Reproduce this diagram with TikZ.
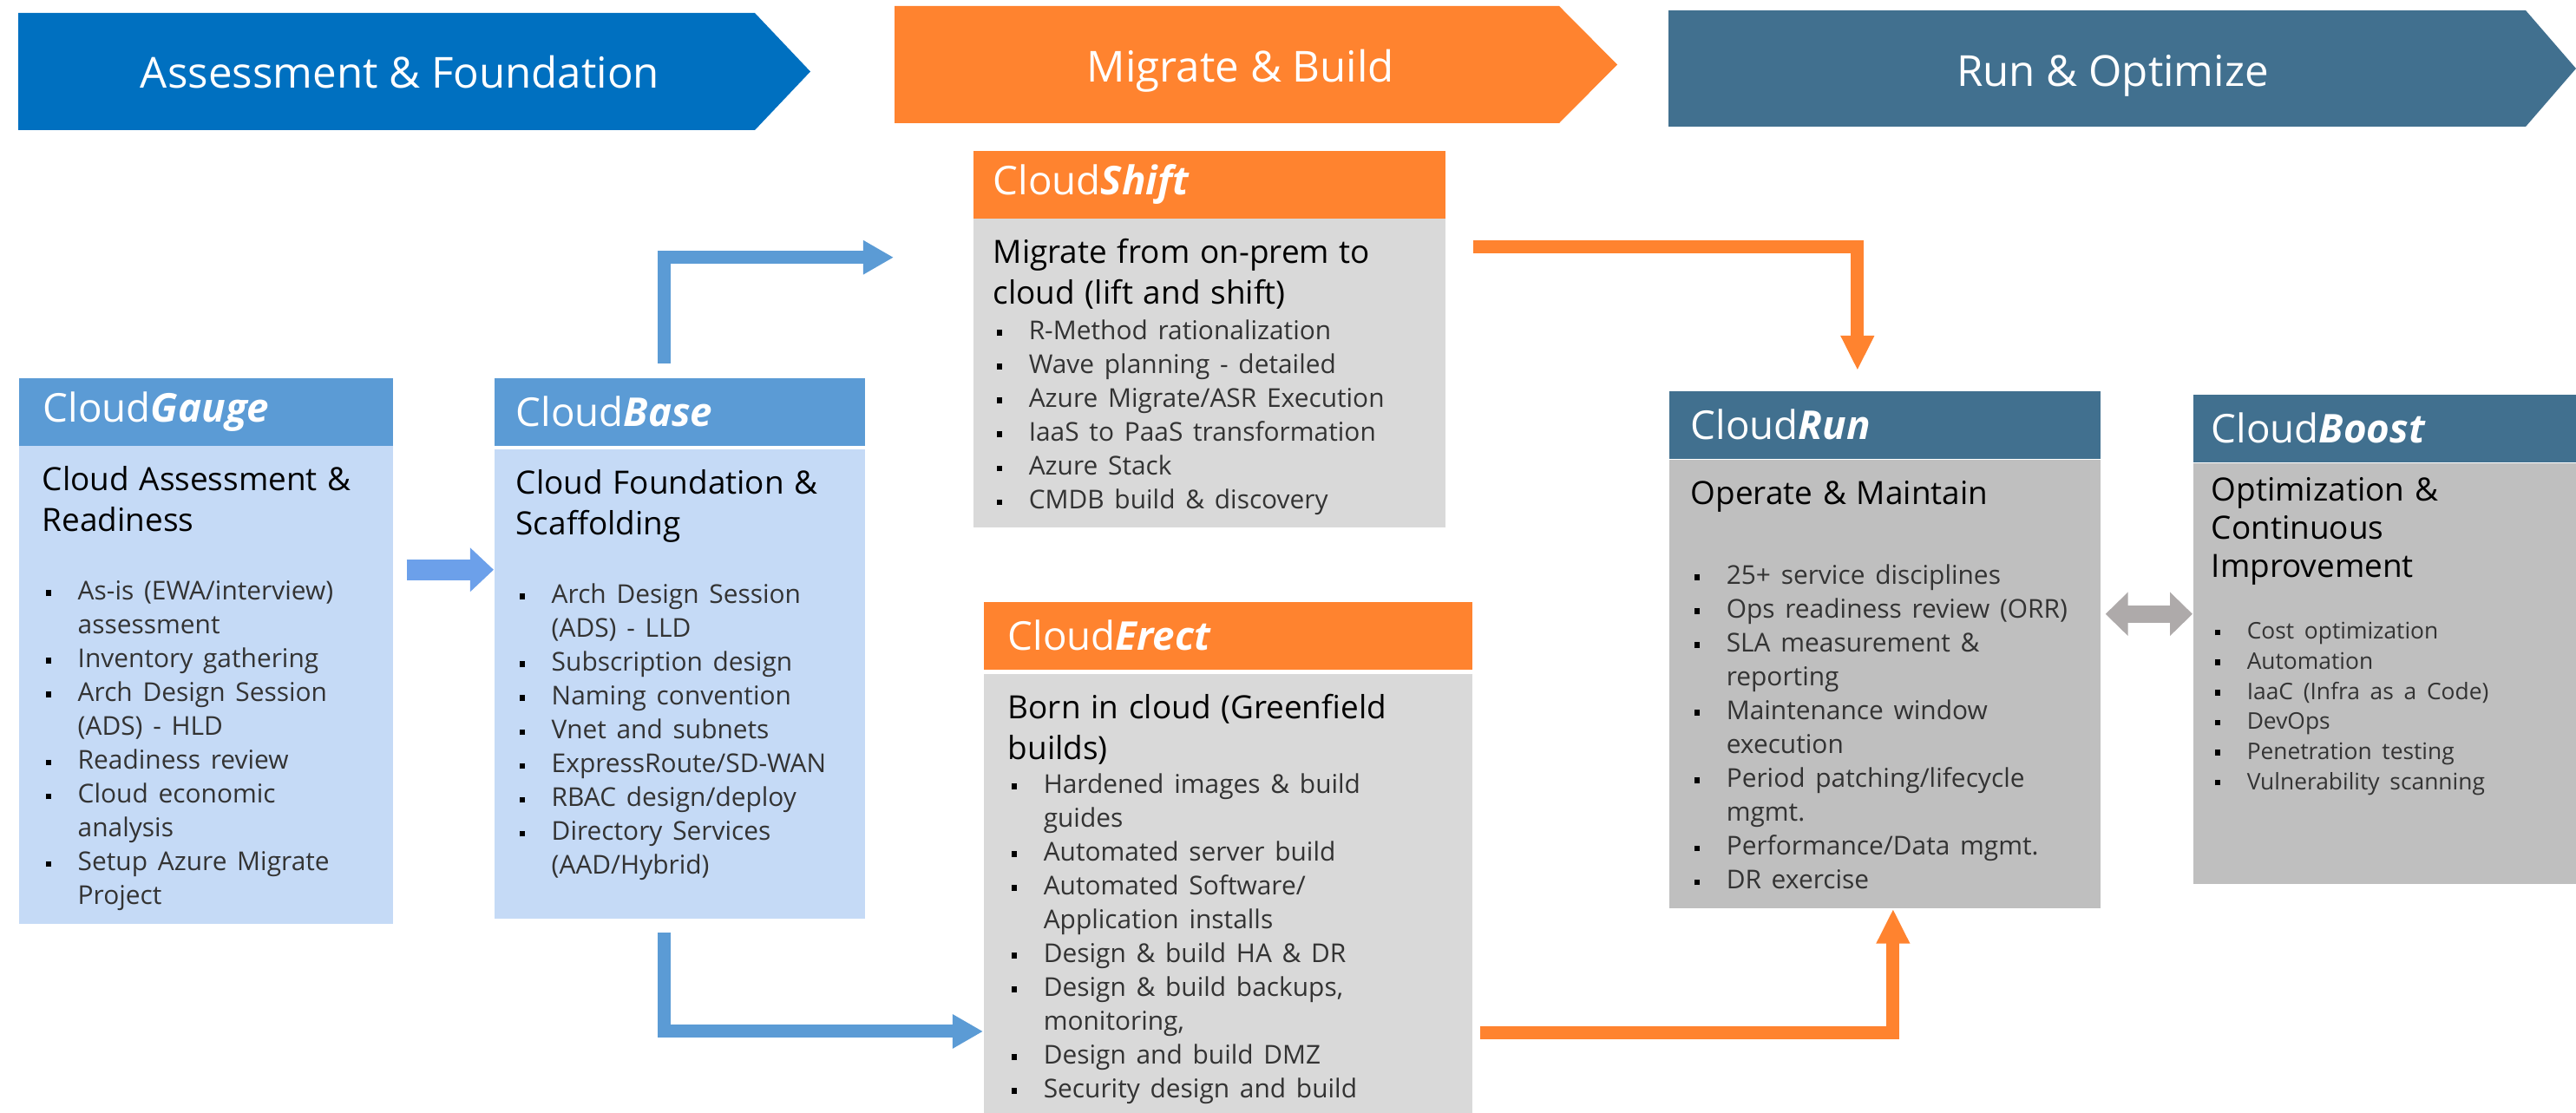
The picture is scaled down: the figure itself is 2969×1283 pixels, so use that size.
\documentclass[tikz,border=0pt]{standalone}
\usepackage{fontspec}
\setmainfont{Open Sans}
\usetikzlibrary{arrows.meta,positioning}

\definecolor{phaseblue}{HTML}{0070C0}
\definecolor{phaseorange}{HTML}{FF832F}
\definecolor{phaseteal}{HTML}{41708F}
\definecolor{headblue}{HTML}{5B9BD5}
\definecolor{bodyblue}{HTML}{C5DAF6}
\definecolor{bodygray}{HTML}{D9D9D9}
\definecolor{bodydark}{HTML}{BFBFBF}
\definecolor{fatblue}{HTML}{6CA0EA}
\definecolor{linkgray}{HTML}{AEAAAA}

\newcommand{\headfont}{\fontsize{10.5}{13.2}\selectfont\color{black}}
\newcommand{\itemfont}{\fontsize{8.5}{11.1}\selectfont\color{black!80}}
\newcommand{\smallitemfont}{\fontsize{7.5}{9.85}\selectfont\color{black!80}}
\newcommand{\sqbullet}{{\color{black}\rule[1.3pt]{1.9pt}{1.9pt}}}
\newenvironment{itemlist}{\begin{list}{\sqbullet}{%
  \setlength{\leftmargin}{0.41cm}\setlength{\labelwidth}{0.41cm}%
  \setlength{\labelsep}{0pt}\setlength{\itemsep}{0pt}\setlength{\parsep}{0pt}%
  \setlength{\topsep}{0pt}\setlength{\partopsep}{0pt}%
  \renewcommand{\makelabel}[1]{\hspace{0.04cm}##1\hfil}}}{\end{list}}

\tikzset{phase/.style={text=white,font=\fontsize{14}{16}\selectfont,inner sep=0pt,anchor=base},
         head/.style={rectangle,anchor=north west,inner ysep=0pt,minimum height=0.78cm,text=white,font=\fontsize{13}{15}\selectfont,align=left},
         body/.style={rectangle,anchor=north west,inner ysep=0pt,text height=0.52cm,align=left},
         flowblue/.style={draw=headblue,line width=0.15cm,-{Triangle[length=0.35cm,width=0.37cm]}},
         floworange/.style={draw=phaseorange,line width=0.15cm,-{Triangle[length=0.4cm,width=0.36cm]}},
         fatarrow/.style={draw=fatblue,line width=0.24cm,-{Triangle[length=0.27cm,width=0.49cm]}},
         linkarrow/.style={draw=linkgray,line width=0.2cm,{Triangle[length=0.26cm,width=0.49cm]}-{Triangle[length=0.26cm,width=0.49cm]}}
}

\begin{document}
\begin{tikzpicture}[x=0.01cm,y=-0.01cm]
\useasboundingbox (0,0) rectangle (2969,1283);

% phase banners
\fill[phaseblue] (21,15) -- (870,15) -- (934,82.5) -- (870,150) -- (21,150) -- cycle;
\node[phase] (assess) at (461,102) {Assessment \& Foundation};
\fill[phaseorange] (1031,7) -- (1797,7) -- (1864,74.5) -- (1797,142) -- (1031,142) -- cycle;
\node[phase] (migrate) at (1430,95) {Migrate \& Build};
\fill[phaseteal] (1923,12) -- (2911,12) -- (2969,79) -- (2911,146) -- (1923,146) -- cycle;
\node[phase] (operate) at (2435,100) {Run \& Optimize};

% CloudGauge
\node[head,fill=headblue,inner xsep=0.28cm,text width=3.75cm] (gaugehead) at (21,435) {Cloud\textbf{\textit{Gauge}}};
\node[body,fill=bodyblue,inner xsep=0.27cm,text width=3.77cm,text depth=4.99cm] (gaugebody) at (21,513) {%
  {\headfont Cloud Assessment \&\\ Readiness\par}\vspace{11.5pt}
  {\itemfont\begin{itemlist}
  \item As-is (EWA/interview)\\ assessment
  \item Inventory gathering
  \item Arch Design Session\\ (ADS) - HLD
  \item Readiness review
  \item Cloud economic\\ analysis
  \item Setup Azure Migrate\\ Project
  \end{itemlist}}};

% CloudBase
\node[head,fill=headblue,inner xsep=0.25cm,text width=3.77cm] (basehead) at (569,435) {Cloud\textbf{\textit{Base}}};
\node[body,fill=bodyblue,inner xsep=0.25cm,text width=3.77cm,text depth=4.89cm] (basebody) at (569,517) {%
  {\headfont Cloud Foundation \&\\ Scaffolding\par}\vspace{11.5pt}
  {\itemfont\begin{itemlist}
  \item Arch Design Session\\ (ADS) - LLD
  \item Subscription design
  \item Naming convention
  \item Vnet and subnets
  \item ExpressRoute/SD-WAN
  \item RBAC design/deploy
  \item Directory Services\\ (AAD/Hybrid)
  \end{itemlist}}};

% CloudShift
\node[head,fill=phaseorange,inner xsep=0.23cm,text width=4.98cm] (shifthead) at (1121,173) {Cloud\textbf{\textit{Shift}}};
\node[body,fill=bodygray,inner xsep=0.23cm,text width=4.98cm,text depth=3.04cm] (shiftbody) at (1121,251) {%
  {\headfont Migrate from on-prem to\\ cloud (lift and shift)\par}\vspace{0.7pt}
  {\itemfont\begin{itemlist}
  \item R-Method rationalization
  \item Wave planning - detailed
  \item Azure Migrate/ASR Execution
  \item IaaS to PaaS transformation
  \item Azure Stack
  \item CMDB build \& discovery
  \end{itemlist}}};

% CloudErect
\node[head,fill=phaseorange,inner xsep=0.28cm,text width=5.07cm] (erecthead) at (1133,693) {Cloud\textbf{\textit{Erect}}};
\node[body,fill=bodygray,inner xsep=0.28cm,text width=5.07cm,text depth=4.55cm] (erectbody) at (1133,776) {%
  {\headfont Born in cloud (Greenfield\\ builds)\par}
  {\itemfont\begin{itemlist}
  \item Hardened images \& build\\ guides
  \item Automated server build
  \item Automated Software/\\ Application installs
  \item Design \& build HA \& DR
  \item Design \& build backups,\\ monitoring,
  \item Design and build DMZ
  \item Security design and build
  \end{itemlist}}};

% CloudRun
\node[head,fill=phaseteal,inner xsep=0.25cm,text width=4.47cm] (runhead) at (1923,450) {Cloud\textbf{\textit{Run}}};
\node[body,fill=bodydark,inner xsep=0.25cm,text width=4.47cm,text depth=4.65cm] (runbody) at (1923,529) {%
  {\headfont Operate \& Maintain\par}\vspace{15pt}
  {\itemfont\begin{itemlist}
  \item 25+ service disciplines
  \item Ops readiness review (ORR)
  \item SLA measurement \&\\ reporting
  \item Maintenance window\\ execution
  \item Period patching/lifecycle\\ mgmt.
  \item Performance/Data mgmt.
  \item DR exercise
  \end{itemlist}}};

% CloudBoost
\node[head,fill=phaseteal,inner xsep=0.21cm,text width=4.00cm] (boosthead) at (2527,454) {Cloud\textbf{\textit{Boost}}};
\node[body,fill=bodydark,inner xsep=0.21cm,text width=4.00cm,text height=0.44cm,text depth=4.41cm] (boostbody) at (2527,533) {%
  {\fontsize{10.5}{12.5}\selectfont Optimization \&\\ Continuous\\ Improvement\par}\vspace{10.4pt}
  {\smallitemfont\begin{itemlist}
  \item Cost optimization
  \item Automation
  \item IaaC (Infra as a Code)
  \item DevOps
  \item Penetration testing
  \item Vulnerability scanning
  \end{itemlist}}};

% connectors
\draw[fatarrow] ([xshift=0.15cm,yshift=1.325cm]gaugebody.east) coordinate (gaugeout) -- (gaugeout -| basebody.west);
\draw[flowblue] ([xshift=-0.175cm,yshift=0.16cm]basehead.north) |- ([xshift=-0.91cm,yshift=1.33cm]shiftbody.west);
\draw[flowblue] ([xshift=-0.175cm,yshift=-0.15cm]basebody.south) |- ([yshift=-1.585cm]erectbody.west);
\draw[floworange] ([xshift=0.31cm,yshift=1.45cm]shiftbody.east) -| ([xshift=-0.315cm,yshift=0.23cm]runhead.north);
\draw[floworange] ([xshift=0.08cm,yshift=-1.605cm]erectbody.east) -| ([xshift=0.095cm]runbody.south);
\draw[linkarrow] ([xshift=0.05cm,yshift=0.805cm]runbody.east) coordinate (runout) -- (runout -| boostbody.west);
\end{tikzpicture}
\end{document}
